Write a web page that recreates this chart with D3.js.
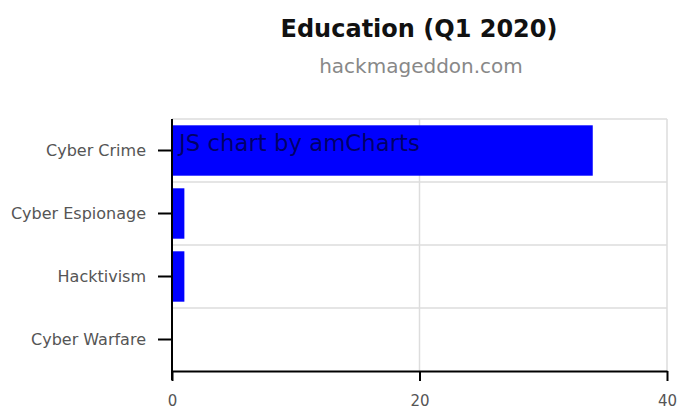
<!DOCTYPE html>
<html><head><meta charset="utf-8">
<script src="https://cdn.jsdelivr.net/npm/d3@7"></script>
<style>body{margin:0;background:#fff}svg{display:block}</style>
</head><body>
<svg id="c" width="678" height="411"></svg>
<script>
const categories = ["Cyber Crime", "Cyber Espionage", "Hacktivism", "Cyber Warfare"];
const values = [34, 1, 1, 0];
const xTicks = [0, 20, 40];
const title = "Education (Q1 2020)";
const subtitle = "hackmageddon.com";

const svg = d3.select("#c");
const font = "DejaVu Sans, Verdana, sans-serif";
const m = {left:172, right:11, top:119, bottom:40};
const W = 678, H = 411;
const x = d3.scaleLinear().domain([0,40]).range([m.left, W - m.right]);
const y = d3.scaleBand().domain(categories).range([m.top, H - m.bottom]).paddingInner(0.2).paddingOuter(0.1);
const yb = d3.scaleBand().domain(categories).range([m.top, H - m.bottom]);

// grid
const g = svg.append("g");
yb.domain().forEach(c => {
  g.append("line").attr("x1", x(0)).attr("x2", x(40)).attr("y1", yb(c)).attr("y2", yb(c))
   .attr("stroke", "#ddd").attr("stroke-width", 1.5);
});
xTicks.slice(1).forEach(t => {
  g.append("line").attr("x1", x(t)).attr("x2", x(t)).attr("y1", m.top).attr("y2", H - m.bottom)
   .attr("stroke", "#ddd").attr("stroke-width", 1.5);
});

// bars
svg.append("g").selectAll("rect").data(categories).join("rect")
  .attr("x", x(0)).attr("y", d => y(d))
  .attr("width", (d,i) => x(values[i]) - x(0)).attr("height", y.bandwidth())
  .attr("fill", "#0000ff");

// axes
const xa = svg.append("g").attr("transform", `translate(0,${H - m.bottom})`)
  .call(d3.axisBottom(x).tickValues(xTicks).tickSize(10).tickPadding(14).tickSizeOuter(0));
xa.select(".domain").attr("stroke", "#000").attr("stroke-width", 2);
xa.selectAll(".tick line").attr("stroke", "#000").attr("stroke-width", 2);
xa.selectAll("text").attr("font-family", font).attr("font-size", 15).attr("fill", "#555");

const ya = svg.append("g").attr("transform", `translate(${m.left},0)`)
  .call(d3.axisLeft(yb).tickSize(14).tickPadding(12).tickSizeOuter(0));
ya.select(".domain").attr("stroke", "#000").attr("stroke-width", 2).attr("d", `M0,${m.top}V${H - m.bottom + 9}`);
ya.selectAll(".tick line").attr("stroke", "#000").attr("stroke-width", 2);
ya.selectAll("text").attr("font-family", font).attr("font-size", 16).attr("fill", "#555");

// watermark
svg.append("text").attr("x", 179).attr("y", 151).attr("font-family", font).attr("font-size", 22.8)
  .attr("fill", "#000").attr("fill-opacity", 0.6).text("JS chart by amCharts");

// titles
svg.append("text").attr("x", 419).attr("y", 37).attr("text-anchor", "middle")
  .attr("font-family", font).attr("font-weight", "bold").attr("font-size", 24).attr("fill", "#111").text(title);
svg.append("text").attr("x", 421).attr("y", 73).attr("text-anchor", "middle")
  .attr("font-family", font).attr("font-size", 20).attr("fill", "#888").text(subtitle);
</script>
</body></html>
